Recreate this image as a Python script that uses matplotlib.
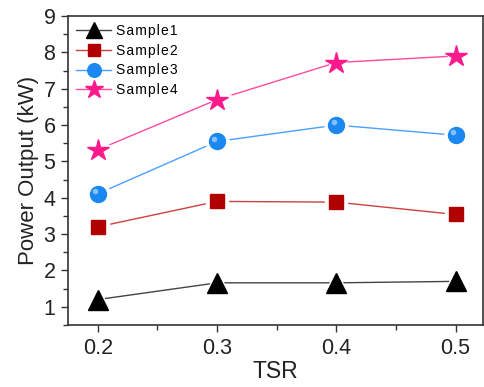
import matplotlib
matplotlib.use("Agg")
import matplotlib.pyplot as plt
from matplotlib.ticker import MultipleLocator
from matplotlib.transforms import offset_copy

plt.rcParams['font.family'] = ['Liberation Sans', 'DejaVu Sans']

tsr = [0.2, 0.3, 0.4, 0.5]
sample1 = [1.2, 1.66, 1.66, 1.70]
sample2 = [3.2, 3.9, 3.88, 3.54]
sample3 = [4.11, 5.55, 6.0, 5.72]
sample4 = [5.32, 6.7, 7.72, 7.9]
labels = ['Sample1', 'Sample2', 'Sample3', 'Sample4']

fig = plt.figure(figsize=(4.84, 3.87), dpi=100)
ax = fig.add_axes([68/484, 1-325/387, (483-68)/484, (325-16)/387])

styles = [
    dict(color='#444444', marker='^', mfc='black', mec='black', ms=14),
    dict(color='#d04040', marker='s', mfc='#b00000', mec='#b00000', ms=10.5),
    dict(color='#4aa0ff', marker='o', mfc='#1a88f0', mec='#1a88f0', ms=11.5),
    dict(color='#ff4aa0', marker='*', mfc='#ff1a8c', mec='#ff1a8c', ms=16),
]
hs = '\u200a'
for ys, lab, st in zip([sample1, sample2, sample3, sample4], labels, styles):
    ax.plot(tsr, ys, lw=1.0, color=st['color'], zorder=2)
    ax.plot(tsr, ys, ls='none', marker=st['marker'], ms=st['ms'] + 5,
            mfc='white', mec='white', zorder=3)
    ax.plot(tsr, ys, ls='none', marker=st['marker'], ms=st['ms'],
            mfc=st['mfc'], mec=st['mec'], zorder=4)
    if st['marker'] == 'o':
        tr = offset_copy(ax.transData, fig=fig, x=-2.0, y=2.0, units='points')
        ax.plot(tsr, ys, ls='none', marker='o', ms=4, mfc='#9fd0ff',
                mec='none', alpha=0.8, transform=tr, zorder=5)
    ax.plot([], [], lw=1.0, color=st['color'], marker=st['marker'],
            ms=st['ms'] * 0.85, mfc=st['mfc'], mec=st['mec'],
            label=hs.join(lab))

ax.set_xlim(0.175, 0.523)
ax.set_ylim(0.5, 9)
ax.xaxis.set_minor_locator(MultipleLocator(0.05))
ax.yaxis.set_minor_locator(MultipleLocator(0.5))
ax.set_xticks(tsr)
ax.set_xticklabels(['0.2', '0.3', '0.4', '0.5'])
ax.set_yticks(range(1, 10))
ax.tick_params(which='major', direction='out', length=5, width=1, labelsize=15.5,
               top=False, right=False, color='#333333', labelcolor='#222222',
               pad=4)
ax.tick_params(which='minor', direction='out', length=3.5, width=1,
               top=False, right=False, color='#333333')
for sp in ax.spines.values():
    sp.set_linewidth(1.2)
    sp.set_color('#333333')

ax.set_xlabel('TSR', fontsize=16.5, color='#222222', labelpad=1)
ax.set_ylabel('Power Output (kW)', fontsize=16, color='#222222', labelpad=3)

leg = ax.legend(loc='upper left', frameon=False, fontsize=10, handlelength=2.5,
                handletextpad=0.35, labelspacing=0.4, borderaxespad=0.2,
                borderpad=0.4)

fig.savefig('out.png', dpi=100)
